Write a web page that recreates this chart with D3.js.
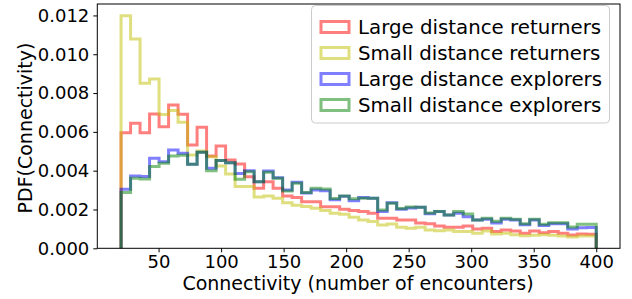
<!DOCTYPE html>
<html>
<head>
<meta charset="utf-8">
<script src="https://cdn.jsdelivr.net/npm/d3@7"></script>
<style>
  html, body { margin: 0; padding: 0; background: #fff; }
  svg { display: block; font-family: "DejaVu Sans", sans-serif; }
</style>
</head>
<body>
<svg id="chart" width="632" height="299"></svg>
<script>
// Bin edges: 50 equal bins from 20 to 400
const binStart = 20;
const binEnd = 400;
const binCount = 50;

const seriesNames = [
  "Large distance returners",
  "Small distance returners",
  "Large distance explorers",
  "Small distance explorers"
];

const largeReturners = [
  0.00596, 0.00644, 0.00596, 0.00692, 0.00627, 0.00739, 0.00691, 0.00532, 0.00624, 0.00476,
  0.00527, 0.00455, 0.00435, 0.00369, 0.00309, 0.00343, 0.00309, 0.00270, 0.00262, 0.00240,
  0.00240, 0.00214, 0.00214, 0.00201, 0.00195, 0.00189, 0.00180, 0.00155, 0.00155, 0.00146,
  0.00146, 0.00130, 0.00126, 0.00115, 0.00108, 0.00108, 0.00115, 0.00100, 0.00103, 0.00086,
  0.00094, 0.00089, 0.00077, 0.00089, 0.00080, 0.00086, 0.00077, 0.00069, 0.00074, 0.00072
];
const smallReturners = [
  0.01199, 0.01079, 0.00851, 0.00873, 0.00690, 0.00710, 0.00650, 0.00481, 0.00502, 0.00472,
  0.00424, 0.00383, 0.00318, 0.00318, 0.00265, 0.00270, 0.00258, 0.00235, 0.00222, 0.00215,
  0.00206, 0.00195, 0.00180, 0.00175, 0.00160, 0.00146, 0.00138, 0.00120, 0.00125, 0.00108,
  0.00103, 0.00108, 0.00094, 0.00090, 0.00094, 0.00086, 0.00086, 0.00077, 0.00089, 0.00074,
  0.00077, 0.00070, 0.00065, 0.00067, 0.00070, 0.00067, 0.00063, 0.00058, 0.00063, 0.00063
];
const largeExplorers = [
  0.00304, 0.00373, 0.00370, 0.00464, 0.00446, 0.00507, 0.00490, 0.00433, 0.00495, 0.00412,
  0.00452, 0.00441, 0.00385, 0.00400, 0.00343, 0.00398, 0.00364, 0.00300, 0.00340, 0.00285,
  0.00300, 0.00297, 0.00250, 0.00268, 0.00245, 0.00262, 0.00258, 0.00190, 0.00235, 0.00201,
  0.00208, 0.00211, 0.00178, 0.00189, 0.00172, 0.00180, 0.00163, 0.00146, 0.00150, 0.00130,
  0.00150, 0.00146, 0.00122, 0.00146, 0.00118, 0.00127, 0.00127, 0.00100, 0.00106, 0.00107
];
const smallExplorers = [
  0.00287, 0.00361, 0.00357, 0.00421, 0.00438, 0.00476, 0.00480, 0.00433, 0.00495, 0.00400,
  0.00452, 0.00441, 0.00356, 0.00395, 0.00343, 0.00392, 0.00361, 0.00295, 0.00335, 0.00288,
  0.00310, 0.00306, 0.00256, 0.00270, 0.00255, 0.00258, 0.00258, 0.00197, 0.00232, 0.00205,
  0.00213, 0.00211, 0.00182, 0.00190, 0.00172, 0.00190, 0.00177, 0.00146, 0.00155, 0.00140,
  0.00155, 0.00150, 0.00127, 0.00150, 0.00124, 0.00132, 0.00132, 0.00110, 0.00124, 0.00124
];

const xTicks = [50, 100, 150, 200, 250, 300, 350, 400];
const yTicks = [0, 0.002, 0.004, 0.006, 0.008, 0.010, 0.012];
const xLabel = "Connectivity (number of encounters)";
const yLabel = "PDF(Connectivity)";

const seriesValues = [largeReturners, smallReturners, largeExplorers, smallExplorers];
const seriesColors = ["#ff0000", "#bfbf00", "#0000ff", "#008000"];

const svg = d3.select("#chart");
const mLeft = 97.3, mRight = 620, mTop = 4, mBottom = 248.3;

const allMax = d3.max(seriesValues.flat());
const span = binEnd - binStart;
const x = d3.scaleLinear().domain([binStart - span * 0.05, binEnd + span * 0.05]).range([mLeft, mRight]);
const y = d3.scaleLinear().domain([0, allMax * 1.05]).range([mBottom, mTop]);

const edges = d3.range(binCount + 1).map(i => binStart + i * span / binCount);

const plot = svg.append("g");

seriesValues.forEach((vals, k) => {
  const pts = [[edges[0], 0]];
  vals.forEach((v, i) => {
    pts.push([edges[i], v]);
    pts.push([edges[i + 1], v]);
  });
  pts.push([edges[binCount], 0]);
  const line = d3.line().x(d => x(d[0])).y(d => y(d[1]));
  plot.append("path")
    .attr("d", line(pts))
    .attr("fill", "none")
    .attr("stroke", seriesColors[k])
    .attr("stroke-opacity", 0.5)
    .attr("stroke-width", 3)
    .attr("stroke-linejoin", "miter");
});

// Axes
const xAxis = d3.axisBottom(x).tickValues(xTicks).tickSize(4).tickPadding(3).tickFormat(d3.format("d"));
const yAxis = d3.axisLeft(y).tickValues(yTicks).tickSize(4).tickPadding(4).tickFormat(d3.format(".3f"));

const gx = svg.append("g").attr("transform", `translate(0,${mBottom})`).call(xAxis);
const gy = svg.append("g").attr("transform", `translate(${mLeft},0)`).call(yAxis);
[gx, gy].forEach(g => {
  g.select(".domain").remove();
  g.selectAll("text").attr("font-size", 18).attr("fill", "#000").attr("font-family", "DejaVu Sans");
  g.selectAll("line").attr("stroke", "#000").attr("stroke-width", 1);
});

// Spines
svg.append("rect")
  .attr("x", mLeft).attr("y", mTop)
  .attr("width", mRight - mLeft).attr("height", mBottom - mTop)
  .attr("fill", "none").attr("stroke", "#000").attr("stroke-width", 1);

// Axis labels
svg.append("text")
  .attr("x", 358).attr("y", 290)
  .attr("text-anchor", "middle").attr("font-size", 19).attr("fill", "#000")
  .text(xLabel);
svg.append("text")
  .attr("transform", `translate(32,${128}) rotate(-90)`)
  .attr("text-anchor", "middle").attr("font-size", 19).attr("fill", "#000")
  .text(yLabel);

// Legend
const lg = svg.append("g");
lg.append("rect")
  .attr("x", 311.5).attr("y", 5.5).attr("width", 298).attr("height", 117.5)
  .attr("rx", 4).attr("ry", 4)
  .attr("fill", "#fff").attr("fill-opacity", 0.8)
  .attr("stroke", "#cccccc").attr("stroke-width", 1);
seriesNames.forEach((name, k) => {
  const cy = 27 + k * 26;
  lg.append("rect")
    .attr("x", 321).attr("y", cy - 5.5).attr("width", 28).attr("height", 11)
    .attr("fill", "none").attr("stroke", seriesColors[k])
    .attr("stroke-opacity", 0.5).attr("stroke-width", 3);
  lg.append("text")
    .attr("x", 358).attr("y", cy + 7)
    .attr("font-size", 19.8).attr("fill", "#000")
    .text(name);
});
</script>
</body>
</html>
